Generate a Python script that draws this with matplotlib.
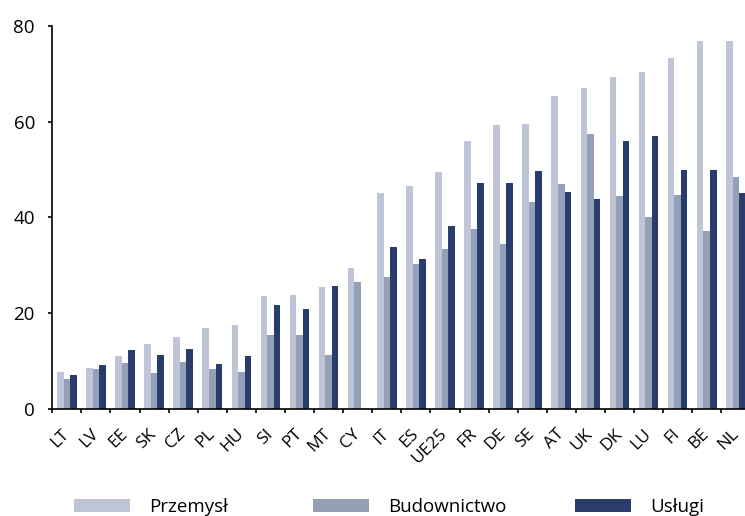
import matplotlib
import numpy as np

matplotlib.use("Agg")
import matplotlib.pyplot as plt

countries = ["LT", "LV", "EE", "SK", "CZ", "PL", "HU", "SI", "PT", "MT", "CY", "IT",
             "ES", "UE25", "FR", "DE", "SE", "AT", "UK", "DK", "LU", "FI", "BE", "NL"]
przemysl = [7.8, 8.6, 11.1, 13.6, 15.1, 17.0, 17.6, 23.6, 23.8, 25.5, 29.5, 45.1,
            46.6, 49.5, 56.0, 59.3, 59.5, 65.3, 67.0, 69.3, 70.4, 73.3, 76.8, 76.8]
budownictwo = [6.3, 8.4, 9.7, 7.6, 9.9, 8.4, 7.8, 15.5, 15.5, 11.3, 26.6, 27.6,
               30.3, 33.4, 37.6, 34.5, 43.2, 47.0, 57.4, 44.5, 40.1, 44.7, 37.1, 48.4]
uslugi = [7.2, 9.2, 12.4, 11.3, 12.6, 9.5, 11.1, 21.8, 21.0, 25.7, 0.0, 33.9,
          31.3, 38.2, 47.2, 47.2, 49.7, 45.4, 43.9, 56.0, 57.0, 49.9, 49.9, 45.1]

series = [("Przemysł", przemysl, "#bfc5d6"),
          ("Budownictwo", budownictwo, "#949fb8"),
          ("Usługi", uslugi, "#283d6b")]

plt.rcParams["font.family"] = ["Open Sans", "DejaVu Sans"]

fig = plt.figure(figsize=(7.45, 5.16), dpi=100)
ax = fig.add_axes([0.0702, 0.2068, 0.937, 0.7434])

x = np.arange(len(countries)) + 0.5
width = 0.225
bars = []
for k, (name, vals, color) in enumerate(series):
    bars.append(ax.bar(x + (k - 1) * width, vals, width, color=color, label=name,
                       linewidth=0))

ax.set_xlim(0, len(countries))
ax.set_ylim(0, 80)
ax.set_yticks([0, 20, 40, 60, 80])

# group boundaries carry the tick marks, labels sit at group centres
ax.set_xticks(np.arange(len(countries) + 1))
ax.set_xticklabels([])
ax.set_xticks(x, minor=True)
ax.set_xticklabels(countries, minor=True, rotation=45, ha="right", va="center",
                   rotation_mode="anchor", fontsize=12.5)
ax.tick_params(axis="x", which="major", direction="out", length=3, width=1.2)
ax.tick_params(axis="x", which="minor", length=0, pad=16)
ax.tick_params(axis="y", direction="out", length=3, width=1.2, labelsize=13.5, pad=9.5)

for side in ["top", "right"]:
    ax.spines[side].set_visible(False)
for side in ["left", "bottom"]:
    ax.spines[side].set_linewidth(1.2)

# one legend entry per column, spaced along the bottom edge
for bc, (name, _, _), xpos in zip(bars, series, [74, 313, 575]):
    fig.legend([bc], [name], loc="center left", bbox_to_anchor=(xpos / 745, 9 / 516),
               frameon=False, fontsize=13.5, handlelength=3.0, handleheight=0.75,
               handletextpad=1.0, borderpad=0, borderaxespad=0)

fig.savefig("out.png", dpi=100)
